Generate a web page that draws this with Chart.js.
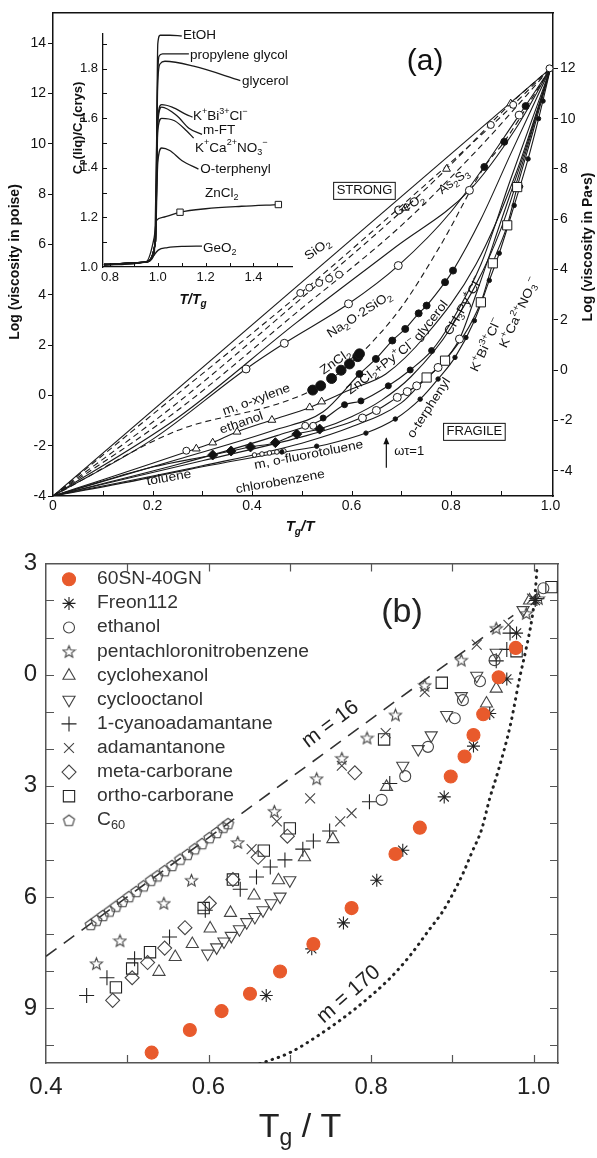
<!DOCTYPE html>
<html>
<head>
<meta charset="utf-8">
<title>Strong and fragile liquids</title>
<script src="https://cdn.jsdelivr.net/npm/chart.js@4.4.1/dist/chart.umd.min.js"></script>
<style>
  html, body { margin: 0; padding: 0; background: #fff; }
  #page { position: relative; width: 597px; height: 1158px; overflow: hidden; background: #fff; }
  canvas { position: absolute; left: 0; }
  #chartA { top: 0; width: 597px; height: 540px; }
  #chartInset { top: 0; width: 320px; height: 320px; }
  #chartB { top: 540px; width: 597px; height: 618px; }
</style>
</head>
<body>
<div id="page">
  <canvas id="chartA" width="597" height="540"></canvas>
  <canvas id="chartInset" width="320" height="320"></canvas>
  <canvas id="chartB" width="597" height="618"></canvas>
</div>
<script>
// ---- panel (a): log viscosity (poise) vs Tg/T
var aXTicks = [0, 0.2, 0.4, 0.6, 0.8, 1.0];
var aYTicks = [-4, -2, 0, 2, 4, 6, 8, 10, 12, 14];
var aYRTicks = [-4, -2, 0, 2, 4, 6, 8, 10, 12];
var aMinorX = [0.1, 0.2, 0.3, 0.4, 0.5, 0.6, 0.7, 0.8, 0.9];

var aSiO2Line = [[0, -4], [1, 13]];
var aDash1Line = [[0, -4], [0.25, 0.05], [0.5, 4.1], [0.75, 8.4], [0.88, 10.7], [1, 13]];
var aDash1Pts = [[0.497, 4.07], [0.515, 4.28], [0.535, 4.47], [0.555, 4.64], [0.575, 4.8], [0.88, 10.75], [0.925, 11.55], [0.998, 13.0]];
var aGeO2Line = [[0, -4], [0.25, -0.3], [0.49, 3.7], [0.708, 7.45], [0.791, 9.0], [0.92, 11.6], [1, 13]];
var aGeO2Pts = [[0.708, 7.45], [0.791, 9.0], [0.92, 11.6]];
var aDash3Line = [[0, -4], [0.25, -0.6], [0.49, 3.3], [0.7, 6.75], [0.85, 9.7], [1, 13]];
var aAs2S3Line = [[0, -4], [0.25, -0.9], [0.49, 2.9], [0.688, 5.89], [0.837, 8.15], [0.93, 10.6], [1, 13]];
var aAs2S3Pts = [[0.837, 8.15]];
var aNaSiLine = [[0, -4], [0.2, -1.75], [0.388, 1.05], [0.465, 2.07], [0.594, 3.64], [0.694, 5.16], [0.8, 7.3], [0.937, 11.14], [1, 13]];
var aNaSiPts = [[0.388, 1.05], [0.465, 2.07], [0.594, 3.64], [0.694, 5.16], [0.937, 11.14]];
var aZnCl2Line = [[0, -4], [0.25, -1.4], [0.45, -0.35], [0.522, 0.21], [0.56, 0.67], [0.616, 1.6], [0.7, 3.5], [0.78, 6.0], [0.867, 9.08], [0.907, 10.08], [1, 13]];
var aZnCl2Pts = [[0.522, 0.21], [0.538, 0.38], [0.56, 0.67], [0.579, 1.0], [0.596, 1.25], [0.6125, 1.54], [0.616, 1.65]];
var aZnCl2HiPts = [[0.867, 9.08], [0.907, 10.08], [0.95, 11.5]];
var aGlyLine = [[0, -4], [0.25, -2.55], [0.45, -1.35], [0.543, -0.65], [0.616, 0.85], [0.649, 1.45], [0.682, 2.18], [0.708, 2.64], [0.735, 3.26], [0.751, 3.57], [0.788, 4.5], [0.804, 4.96], [0.86, 7.0], [0.92, 9.6], [1, 13]];
var aGlyPts = [[0.616, 0.85], [0.649, 1.45], [0.682, 2.18], [0.708, 2.64], [0.735, 3.26], [0.751, 3.57], [0.788, 4.5], [0.804, 4.96]];
var aZnPyLine = [[0, -4], [0.25, -2.75], [0.45, -1.6], [0.543, -0.95], [0.586, -0.37], [0.619, -0.22], [0.674, 0.38], [0.718, 1.01], [0.761, 1.78], [0.8, 2.9], [0.86, 5.2], [0.92, 8.6], [1, 13]];
var aZnPyPts = [[0.543, -0.9], [0.586, -0.37], [0.619, -0.22], [0.674, 0.38], [0.718, 1.01], [0.761, 1.78]];
var aKBiLine = [[0, -4], [0.3, -2.6], [0.5, -1.65], [0.6, -1.05], [0.65, -0.6], [0.692, -0.08], [0.731, 0.38], [0.774, 1.11], [0.817, 2.24], [0.85, 4.0], [0.9, 6.9], [0.95, 9.8], [1, 13]];
var aKBiPts = [[0.622, -0.9], [0.65, -0.6], [0.692, -0.08], [0.712, 0.15], [0.731, 0.38], [0.774, 1.11], [0.817, 2.24]];
var aKCaLine = [[0, -4], [0.3, -2.8], [0.5, -1.9], [0.6, -1.25], [0.7, -0.3], [0.751, 0.71], [0.788, 1.38], [0.86, 3.7], [0.884, 5.25], [0.913, 6.76], [0.933, 8.28], [0.965, 10.5], [1, 13]];
var aKCaPts = [[0.751, 0.71], [0.788, 1.38], [0.86, 3.7], [0.884, 5.25], [0.913, 6.76], [0.933, 8.28]];
var aOtpLine = [[0, -4], [0.15, -3.45], [0.272, -2.95], [0.45, -2.3], [0.55, -1.95], [0.629, -1.5], [0.688, -0.94], [0.738, -0.15], [0.774, 0.65], [0.808, 1.51], [0.847, 2.97], [0.877, 4.57], [0.897, 5.65], [0.927, 7.55], [0.955, 9.4], [0.976, 11.0], [1, 13]];
var aOtpPts = [[0.46, -2.25], [0.53, -2.02], [0.629, -1.5], [0.688, -0.94], [0.738, -0.15], [0.774, 0.65], [0.808, 1.51], [0.83, 2.3], [0.847, 2.97], [0.877, 4.57], [0.897, 5.65], [0.927, 7.55], [0.94, 8.3], [0.955, 9.4], [0.976, 11.0], [0.985, 11.7]];
var aTolLine = [[0, -4], [0.1, -3.4], [0.2, -2.85], [0.321, -2.37], [0.358, -2.21], [0.397, -2.05], [0.447, -1.88], [0.49, -1.54], [0.536, -1.34], [0.6, -0.85], [0.66, -0.2], [0.72, 0.75], [0.8, 2.7], [0.9, 6.6], [1, 13]];
var aTolPts = [[0.321, -2.37], [0.358, -2.21], [0.397, -2.05], [0.447, -1.88], [0.49, -1.54], [0.536, -1.34]];
var aEthLine = [[0, -4], [0.1, -3.35], [0.2, -2.7], [0.278, -2.18], [0.321, -1.88], [0.37, -1.45], [0.44, -0.98], [0.516, -0.48], [0.6, 0.25], [0.669, 0.85], [0.75, 2.4], [0.85, 5.2], [0.93, 8.8], [1, 13]];
var aEthPts = [[0.288, -2.12], [0.321, -1.88], [0.37, -1.45], [0.44, -0.98], [0.516, -0.48], [0.54, -0.25]];
var aXylPts = [[0.268, -2.2], [0.507, -1.21], [0.523, -1.21]];
var aFluPts = [[0.405, -2.37], [0.42, -2.33], [0.435, -2.29], [0.45, -2.25], [0.464, -2.21]];

// ---- inset: Cp(liq)/Cp(crys) vs T/Tg
var iXTicks = [0.8, 1.0, 1.2, 1.4];
var iYTicks = [1.0, 1.2, 1.4, 1.6, 1.8];
var iMinorY = [1.1, 1.2, 1.3, 1.4, 1.5, 1.6, 1.7, 1.8, 1.9];
var iMinorX = [0.8, 0.9, 1.0, 1.1, 1.2, 1.3, 1.4, 1.5];
var iEtOH = [[0.775, 1.01], [0.95, 1.02], [0.985, 1.05], [0.995, 1.5], [1.0, 1.9], [1.01, 1.935], [1.05, 1.935], [1.1, 1.932]];
var iPG = [[0.775, 1.01], [0.95, 1.02], [0.99, 1.1], [0.998, 1.7], [1.005, 1.85], [1.02, 1.86], [1.13, 1.86]];
var iGly = [[0.775, 1.01], [0.95, 1.02], [0.99, 1.1], [1.0, 1.75], [1.01, 1.82], [1.03, 1.83], [1.15, 1.81], [1.345, 1.752]];
var iKBi = [[0.775, 1.01], [0.95, 1.02], [0.99, 1.1], [1.0, 1.6], [1.016, 1.655], [1.06, 1.645], [1.12, 1.615], [1.145, 1.605]];
var iMFT = [[0.775, 1.01], [0.95, 1.02], [0.99, 1.1], [1.0, 1.58], [1.016, 1.645], [1.08, 1.61], [1.13, 1.56], [1.185, 1.535]];
var iKCa = [[0.775, 1.01], [0.95, 1.02], [0.99, 1.1], [1.0, 1.55], [1.016, 1.6], [1.07, 1.59], [1.12, 1.55], [1.15, 1.52]];
var iOtp = [[0.775, 1.01], [0.95, 1.02], [0.99, 1.1], [1.0, 1.42], [1.016, 1.48], [1.05, 1.47], [1.1, 1.43], [1.17, 1.395]];
var iZnCl2 = [[0.775, 1.01], [0.95, 1.02], [0.985, 1.12], [0.995, 1.188], [1.02, 1.2], [1.093, 1.221], [1.2, 1.235], [1.35, 1.245], [1.504, 1.252]];
var iZnCl2Pts = [[1.093, 1.221], [1.504, 1.252]];
var iGeO2 = [[0.775, 1.008], [0.912, 1.015], [0.926, 1.018], [0.967, 1.028], [1.002, 1.068], [1.04, 1.078], [1.1, 1.083], [1.185, 1.084]];

// ---- panel (b): log tau vs Tg/T
var bXTicks = [0.4, 0.6, 0.8, 1.0];
var bYTicks = [3, 0, -3, -6, -9];
var bMinorX = [0.5, 0.6, 0.7, 0.8, 0.9, 1.0];
var bMinorY = [-10, -9, -8, -7, -6, -5, -4, -3, -2, -1, 0, 1, 2];

var bSN60 = [[0.530, -10.2], [0.577, -9.59], [0.616, -9.08], [0.651, -8.61], [0.688, -8.01], [0.729, -7.27], [0.776, -6.30], [0.830, -4.84], [0.860, -4.13], [0.898, -2.75], [0.915, -2.21], [0.926, -1.63], [0.938, -1.07], [0.957, -0.07], [0.978, 0.72]];
var bFreon = [[0.671, -8.66], [0.727, -7.40], [0.766, -6.70], [0.807, -5.55], [0.839, -4.74], [0.890, -3.30], [0.926, -1.93], [0.946, -1.05], [0.967, -0.12], [0.979, 1.12], [1.002, 2.0]];
var bEthanol = [[0.813, -3.38], [0.842, -2.74], [0.870, -1.95], [0.903, -1.18], [0.913, -0.69], [0.934, -0.18], [0.952, 0.39], [1.012, 2.33]];
var bPCNB = [[0.462, -7.80], [0.491, -7.18], [0.545, -6.17], [0.579, -5.55], [0.636, -4.53], [0.681, -3.69], [0.733, -2.81], [0.764, -2.26], [0.795, -1.71], [0.830, -1.09], [0.866, -0.29], [0.911, 0.39], [0.954, 1.25], [0.991, 1.65], [1.006, 2.05]];
var bCyclohex = [[0.539, -8.02], [0.559, -7.62], [0.580, -7.27], [0.602, -6.85], [0.627, -6.43], [0.656, -5.96], [0.686, -5.55], [0.718, -4.93], [0.753, -4.44], [0.819, -3.03], [0.942, -0.78], [0.954, -0.38], [0.995, 2.0]];
var bCyclooct = [[0.599, -7.53], [0.610, -7.36], [0.619, -7.20], [0.628, -7.05], [0.638, -6.87], [0.647, -6.68], [0.657, -6.54], [0.667, -6.36], [0.677, -6.17], [0.688, -5.99], [0.700, -5.55], [0.839, -2.46], [0.858, -2.01], [0.874, -1.64], [0.893, -1.09], [0.911, -0.58], [0.930, -0.03], [0.954, 0.59], [0.987, 1.74]];
var bCyano = [[0.450, -8.66], [0.475, -8.18], [0.509, -7.67], [0.552, -7.08], [0.596, -6.36], [0.639, -5.79], [0.659, -5.46], [0.676, -5.19], [0.694, -5.0], [0.716, -4.71], [0.729, -4.49], [0.749, -4.22], [0.798, -3.43], [0.823, -2.94], [0.954, 0.37], [0.967, 0.68], [0.971, 1.12], [1.004, 2.05]];
var bAdaman = [[0.653, -4.71], [0.684, -3.96], [0.725, -3.34], [0.762, -3.96], [0.776, -3.74], [0.764, -2.46], [0.818, -1.58], [0.866, -0.47], [0.930, 0.81], [0.969, 1.34], [0.998, 2.05]];
var bMeta = [[0.482, -8.79], [0.506, -8.18], [0.525, -7.77], [0.546, -7.38], [0.571, -6.83], [0.601, -6.17], [0.630, -5.53], [0.661, -4.93], [0.697, -4.36], [0.780, -2.65]];
var bOrtho = [[0.486, -8.44], [0.506, -7.93], [0.528, -7.49], [0.594, -6.30], [0.630, -5.53], [0.668, -4.75], [0.700, -4.15], [0.816, -1.75], [0.887, -0.22], [0.979, 0.63], [1.022, 2.36]];
var bC60 = [[0.455, -6.74], [0.462, -6.63], [0.470, -6.50], [0.478, -6.38], [0.486, -6.25], [0.494, -6.12], [0.502, -5.99], [0.511, -5.85], [0.520, -5.70], [0.529, -5.55], [0.537, -5.43], [0.546, -5.29], [0.555, -5.15], [0.565, -4.98], [0.574, -4.85], [0.583, -4.70], [0.592, -4.56], [0.601, -4.40], [0.610, -4.26], [0.618, -4.12], [0.624, -4.02]];
var bM16 = [[0.4, -7.6], [0.975, 1.6]];
var bM170 = [[0.663, -10.5], [0.700, -10.2], [0.741, -9.65], [0.782, -8.99], [0.823, -8.2], [0.848, -7.58], [0.872, -6.87], [0.887, -6.43], [0.901, -5.9], [0.913, -5.37], [0.924, -4.8], [0.936, -4.18], [0.946, -3.34], [0.956, -2.63], [0.971, -1.40], [0.983, -0.07], [0.991, 0.72], [0.998, 1.52], [1.002, 2.22], [1.004, 2.84]];

var FONT = '"Liberation Sans", Arial, sans-serif';
Chart.defaults.font.family = FONT;
Chart.defaults.color = '#111';

function pts(arr) {
    return arr.map(function (p) { return { x: p[0], y: p[1] }; });
}

function lineSet(arr, dash, width, color) {
    return {
        data: pts(arr), showLine: true, pointRadius: 0, fill: false,
        borderColor: color || '#1a1a1a', borderWidth: width || 1.1,
        borderDash: dash || [], cubicInterpolationMode: 'monotone', order: 2
    };
}

function markSet(arr, style, r, fill, extra) {
    var ds = {
        data: pts(arr), showLine: false, pointStyle: style, pointRadius: r,
        pointBackgroundColor: fill, pointBorderColor: '#1a1a1a', pointBorderWidth: 1,
        order: 1, clip: false
    };
    return Object.assign(ds, extra || {});
}

// rich text: _{sub} and ^{sup}
function parseRich(s) {
    var out = [], buf = '', i = 0;
    while (i < s.length) {
        var c = s[i];
        if ((c === '_' || c === '^') && s[i + 1] === '{') {
            if (buf) { out.push([buf, 0]); buf = ''; }
            var j = s.indexOf('}', i);
            out.push([s.slice(i + 2, j), c === '_' ? 1 : 2]);
            i = j + 1;
        } else {
            buf += c;
            i++;
        }
    }
    if (buf) out.push([buf, 0]);
    return out;
}

function fontStr(it, size) {
    return (it.style || 'normal') + ' ' + (it.weight || 'normal') + ' ' + size + 'px ' + FONT;
}

function drawRich(ctx, it, x, y) {
    var size = it.size || 13;
    var small = Math.round(size * 0.68);
    var w = 0;
    var segs = parseRich(it.t).map(function (p) {
        var fs = p[1] ? small : size;
        ctx.font = fontStr(it, fs);
        var seg = { t: p[0], m: p[1], fs: fs, x: w };
        w += ctx.measureText(p[0]).width;
        return seg;
    });
    ctx.save();
    ctx.translate(x, y);
    ctx.rotate((it.rot || 0) * Math.PI / 180);
    ctx.scale(it.sx || 1, 1);
    ctx.fillStyle = it.color || '#111';
    ctx.textBaseline = 'middle';
    ctx.textAlign = 'left';
    var x0 = it.align === 'left' ? 0 : -w / 2;
    segs.forEach(function (s) {
        ctx.font = fontStr(it, s.fs);
        var dy = s.m === 1 ? size * 0.32 : (s.m === 2 ? -size * 0.38 : 0);
        ctx.fillText(s.t, x0 + s.x, dy);
    });
    if (it.box) {
        ctx.strokeStyle = it.color || '#111';
        ctx.lineWidth = 1;
        ctx.strokeRect(x0 - 3, -size / 2 - 2, w + 6, size + 4);
    }
    ctx.restore();
}

function annotations(id, items, arrows, xId, yId) {
    return {
        id: id,
        afterDatasetsDraw: function (chart) {
            var ctx = chart.ctx, xs = chart.scales[xId], ys = chart.scales[yId];
            (arrows || []).forEach(function (a) {
                var x1 = xs.getPixelForValue(a[0]), y1 = ys.getPixelForValue(a[1]);
                var x2 = xs.getPixelForValue(a[2]), y2 = ys.getPixelForValue(a[3]);
                ctx.save();
                ctx.strokeStyle = '#111';
                ctx.fillStyle = '#111';
                ctx.lineWidth = 1.2;
                ctx.beginPath();
                ctx.moveTo(x1, y1);
                ctx.lineTo(x2, y2);
                ctx.stroke();
                ctx.beginPath();
                ctx.moveTo(x2, y2 - 1);
                ctx.lineTo(x2 - 3, y2 + 6);
                ctx.lineTo(x2 + 3, y2 + 6);
                ctx.closePath();
                ctx.fill();
                ctx.restore();
            });
            items.forEach(function (it) {
                var x = it.px !== undefined ? it.px : xs.getPixelForValue(it.x);
                var y = it.py !== undefined ? it.py : ys.getPixelForValue(it.y);
                drawRich(ctx, it, x, y);
            });
        }
    };
}

function tickMarks(id, list, color, width) {
    return {
        id: id,
        afterDatasetsDraw: function (chart) {
            var ctx = chart.ctx, a = chart.chartArea;
            ctx.save();
            ctx.strokeStyle = color;
            ctx.lineWidth = width;
            ctx.beginPath();
            list.forEach(function (t) {
                var s = chart.scales[t.scale];
                t.values.forEach(function (v) {
                    var p = Math.round(s.getPixelForValue(v)) + 0.5;
                    if (t.side === 'bottom') { ctx.moveTo(p, a.bottom); ctx.lineTo(p, a.bottom - t.len); }
                    else if (t.side === 'top') { ctx.moveTo(p, a.top); ctx.lineTo(p, a.top + t.len); }
                    else if (t.side === 'left') { ctx.moveTo(a.left, p); ctx.lineTo(a.left + t.len, p); }
                    else { ctx.moveTo(a.right, p); ctx.lineTo(a.right - t.len, p); }
                });
            });
            ctx.stroke();
            ctx.restore();
        }
    };
}

function fixedTicks(values) {
    return function (scale) {
        scale.ticks = values.map(function (v) { return { value: v }; });
    };
}

function makeMarker(kind, size) {
    var c = document.createElement('canvas');
    c.width = size;
    c.height = size;
    var g = c.getContext('2d');
    var cx = size / 2, cy = size / 2 + 0.5;
    g.strokeStyle = '#444';
    g.lineWidth = 1.1;
    g.beginPath();
    var n = kind === 'star5' ? 10 : 5;
    for (var i = 0; i < n; i++) {
        var r = kind === 'star5' ? (i % 2 ? 2.7 : 6.3) : 5.8;
        var ang = -Math.PI / 2 + i * 2 * Math.PI / n;
        var px = cx + r * Math.cos(ang), py = cy + r * Math.sin(ang);
        if (i === 0) g.moveTo(px, py); else g.lineTo(px, py);
    }
    g.closePath();
    g.stroke();
    return c;
}

var noEvents = [];

// ================= panel (a) =================
var aLabels = [
    { t: '(a)', x: 0.748, y: 13.25, size: 30 },
    { t: 'STRONG', x: 0.626, y: 8.13, size: 13, box: true },
    { t: 'FRAGILE', x: 0.847, y: -1.45, size: 13, box: true },
    { t: 'SiO_{2}', x: 0.532, y: 5.8, size: 12.5, rot: -35, sx: 1.1 },
    { t: 'GeO_{2}', x: 0.716, y: 7.55, size: 12.5, rot: -28, sx: 1.05 },
    { t: 'As_{2}S_{3}', x: 0.806, y: 8.5, size: 12.5, rot: -36, sx: 1.05 },
    { t: 'Na_{2}O·2SiO_{2}', x: 0.616, y: 3.2, size: 12.5, rot: -33, sx: 1.1 },
    { t: 'ZnCl_{2}', x: 0.568, y: 1.33, size: 12.5, rot: -35, sx: 1.1 },
    { t: 'ZnCl_{2}+Py^{+}Cl^{−}', x: 0.66, y: 1.13, size: 12.5, rot: -37, sx: 1.1 },
    { t: 'glycerol', x: 0.76, y: 2.96, size: 12.5, rot: -52, sx: 1.1 },
    { t: 'CH_{3}Py^{+}Cl^{−}', x: 0.826, y: 3.55, size: 12.5, rot: -60, sx: 1.1 },
    { t: 'K^{+}Bi^{3+}Cl^{−}', x: 0.871, y: 2.0, size: 12.5, rot: -65, sx: 1.1 },
    { t: 'K^{+}Ca^{2+}NO_{3}^{−}', x: 0.937, y: 3.28, size: 12.5, rot: -65, sx: 1.1 },
    { t: 'o-terphenyl', x: 0.756, y: -0.5, size: 12.5, rot: -57, sx: 1.1 },
    { t: 'ωτ=1', x: 0.716, y: -2.21, size: 13 },
    { t: 'm, o-xylene', x: 0.409, y: -0.18, size: 12.5, rot: -20, sx: 1.1 },
    { t: 'ethanol', x: 0.379, y: -1.1, size: 12.5, rot: -19, sx: 1.1 },
    { t: 'toluene', x: 0.233, y: -3.28, size: 12.5, rot: -10, sx: 1.1 },
    { t: 'chlorobenzene', x: 0.457, y: -3.44, size: 12.5, rot: -10, sx: 1.1 },
    { t: 'm, o-fluorotoluene', x: 0.514, y: -2.37, size: 12.5, rot: -11, sx: 1.1 },
    { t: 'Log (viscosity in poise)', px: 15, py: 262, size: 14, rot: -90, weight: 'bold' },
    { t: 'Log (viscosity in Pa•s)', px: 588, py: 247, size: 14, rot: -90, weight: 'bold' },
    { t: 'T_{g}/T', px: 300, py: 527, size: 15, weight: 'bold', style: 'italic' }
];
var aArrows = [[0.67, -2.88, 0.67, -1.7]];

var aAxisBorder = { display: true, color: '#111', width: 1.5 };

var chartA = new Chart(document.getElementById('chartA'), {
    type: 'scatter',
    data: {
        datasets: [
            markSet(aDash1Pts, 'circle', 3.5, '#fff'),
            markSet(aGeO2Pts, 'triangle', 4.5, '#fff'),
            markSet(aAs2S3Pts, 'circle', 4, '#fff'),
            markSet(aNaSiPts, 'circle', 4, '#fff'),
            markSet(aZnCl2Pts, 'circle', 5, '#111'),
            markSet(aZnCl2HiPts, 'circle', 3.5, '#111'),
            markSet(aGlyPts, 'circle', 3.5, '#111'),
            markSet(aZnPyPts, 'circle', 3, '#111'),
            markSet(aKBiPts, 'circle', 4, '#fff'),
            markSet(aKCaPts, 'rect', 6.5, '#fff'),
            markSet(aOtpPts, 'circle', 2.2, '#111'),
            markSet(aTolPts, 'rectRot', 5, '#111'),
            markSet(aEthPts, 'triangle', 4.5, '#fff'),
            markSet(aXylPts, 'circle', 3.5, '#fff'),
            markSet(aFluPts, 'circle', 2.3, '#fff'),
            lineSet(aSiO2Line),
            lineSet(aDash1Line, [6, 4]),
            lineSet(aGeO2Line, [6, 4]),
            lineSet(aDash3Line, [6, 4]),
            lineSet(aAs2S3Line),
            lineSet(aNaSiLine),
            lineSet(aZnCl2Line, [6, 4]),
            lineSet(aGlyLine),
            lineSet(aZnPyLine),
            lineSet(aKBiLine),
            lineSet(aKCaLine),
            lineSet(aOtpLine),
            lineSet(aTolLine),
            lineSet(aEthLine)
        ]
    },
    options: {
        responsive: false, animation: false, devicePixelRatio: 1, events: noEvents,
        layout: { padding: 0 },
        plugins: { legend: { display: false }, tooltip: { enabled: false } },
        scales: {
            x: {
                type: 'linear', position: 'bottom', min: 0, max: 1.005,
                afterBuildTicks: fixedTicks(aXTicks),
                afterFit: function (s) { s.height = 44; },
                ticks: {
                    padding: 2, font: { size: 14 }, color: '#111', maxRotation: 0, autoSkip: false,
                    callback: function (v) { return v === 0 ? '0' : v.toFixed(1); }
                },
                grid: { display: false, drawTicks: false },
                border: aAxisBorder
            },
            xT: {
                type: 'linear', position: 'top', min: 0, max: 1.005,
                afterFit: function (s) { s.height = 13; },
                ticks: { display: false },
                grid: { display: false, drawTicks: false },
                border: aAxisBorder
            },
            y: {
                type: 'linear', position: 'left', min: -4, max: 15.2,
                afterBuildTicks: fixedTicks(aYTicks),
                afterFit: function (s) { s.width = 53; },
                ticks: { padding: 2, font: { size: 14 }, color: '#111' },
                grid: { display: true, drawOnChartArea: false, drawTicks: true, tickLength: 5, color: '#111' },
                border: aAxisBorder
            },
            yR: {
                type: 'linear', position: 'right', min: -5, max: 14.2,
                afterBuildTicks: fixedTicks(aYRTicks),
                afterFit: function (s) { s.width = 44; },
                ticks: { padding: 2, font: { size: 14 }, color: '#111' },
                grid: { display: true, drawOnChartArea: false, drawTicks: true, tickLength: 5, color: '#111' },
                border: aAxisBorder
            }
        }
    },
    plugins: [
        tickMarks('aTicks', [{ scale: 'x', side: 'bottom', values: aMinorX, len: 5 }], '#111', 1),
        annotations('aText', aLabels, aArrows, 'x', 'y')
    ]
});

// ================= inset =================
var iLabels = [
    { t: 'EtOH', x: 1.105, y: 1.936, size: 13.5, align: 'left' },
    { t: 'propylene glycol', x: 1.135, y: 1.856, size: 13.5, align: 'left' },
    { t: 'glycerol', x: 1.352, y: 1.748, size: 13.5, align: 'left' },
    { t: 'K^{+}Bi^{3+}Cl^{−}', x: 1.147, y: 1.608, size: 13.5, align: 'left' },
    { t: 'm-FT', x: 1.189, y: 1.552, size: 13.5, align: 'left' },
    { t: 'K^{+}Ca^{2+}NO_{3}^{−}', x: 1.156, y: 1.48, size: 13.5, align: 'left' },
    { t: 'O-terphenyl', x: 1.177, y: 1.396, size: 13.5, align: 'left' },
    { t: 'ZnCl_{2}', x: 1.197, y: 1.296, size: 13.5, align: 'left' },
    { t: 'GeO_{2}', x: 1.189, y: 1.076, size: 13.5, align: 'left' },
    { t: 'C_{p}(liq)/C_{p}(crys)', px: 78, py: 128, size: 13, rot: -90, weight: 'bold' },
    { t: 'T/T_{g}', px: 193, py: 300, size: 14, weight: 'bold', style: 'italic' }
];

var chartInset = new Chart(document.getElementById('chartInset'), {
    type: 'scatter',
    data: {
        datasets: [
            markSet(iZnCl2Pts, 'rect', 4.5, '#fff'),
            lineSet(iEtOH, [], 1.3),
            lineSet(iPG, [], 1.3),
            lineSet(iGly, [], 1.3),
            lineSet(iKBi, [], 1.3),
            lineSet(iMFT, [], 1.3),
            lineSet(iKCa, [], 1.3),
            lineSet(iOtp, [], 1.3),
            lineSet(iZnCl2, [], 1.3),
            lineSet(iGeO2, [], 1.3)
        ]
    },
    options: {
        responsive: false, animation: false, devicePixelRatio: 1, events: noEvents,
        layout: { padding: { top: 34, right: 28, left: 0, bottom: 0 } },
        plugins: { legend: { display: false }, tooltip: { enabled: false } },
        scales: {
            x: {
                type: 'linear', position: 'bottom', min: 0.771, max: 1.561,
                afterBuildTicks: fixedTicks(iXTicks),
                afterFit: function (s) { s.height = 53; },
                ticks: {
                    padding: 3, font: { size: 13 }, color: '#111', maxRotation: 0, autoSkip: false,
                    callback: function (v) { return v.toFixed(1); }
                },
                grid: { display: false, drawTicks: false },
                border: { display: true, color: '#111', width: 1.3 }
            },
            y: {
                type: 'linear', position: 'left', min: 1.0, max: 1.94,
                afterBuildTicks: fixedTicks(iYTicks),
                afterFit: function (s) { s.width = 103; },
                ticks: {
                    padding: 5, font: { size: 13 }, color: '#111',
                    callback: function (v) { return v.toFixed(1); }
                },
                grid: { display: false, drawTicks: false },
                border: { display: true, color: '#111', width: 1.3 }
            }
        }
    },
    plugins: [
        tickMarks('iTicks', [
            { scale: 'y', side: 'left', values: iMinorY, len: 4 },
            { scale: 'x', side: 'bottom', values: iMinorX, len: 4 }
        ], '#111', 1),
        annotations('iText', iLabels, [], 'x', 'y')
    ]
});

// ================= panel (b) =================
var star5 = makeMarker('star5', 15);
var pentagon = makeMarker('pent', 15);
var ORANGE = '#E85A2C';
var GREY = '#444';
var open = 'rgba(0,0,0,0)';

function bMarks(label, arr, style, r, fill, extra) {
    return markSet(arr, style, r, fill, Object.assign({
        label: label, pointBorderColor: GREY, pointBorderWidth: 1.1, inLegend: true
    }, extra || {}));
}

var bDatasets = [
    bMarks('60SN-40GN', bSN60, 'circle', 6.5, ORANGE, { pointBorderColor: ORANGE, order: 0 }),
    bMarks('Freon112', bFreon, 'star', 6.5, open, { pointBorderColor: '#222' }),
    bMarks('ethanol', bEthanol, 'circle', 5.5, open),
    bMarks('pentachloronitrobenzene', bPCNB, star5, 7, open),
    bMarks('cyclohexanol', bCyclohex, 'triangle', 7, open),
    bMarks('cyclooctanol', bCyclooct, 'triangle', 7, open, { pointRotation: 180, rotation: 180 }),
    bMarks('1-cyanoadamantane', bCyano, 'cross', 7.5, open, { pointBorderColor: '#222' }),
    bMarks('adamantanone', bAdaman, 'crossRot', 7, open),
    bMarks('meta-carborane', bMeta, 'rectRot', 7, open),
    bMarks('ortho-carborane', bOrtho, 'rect', 8, open, { pointBorderColor: '#222' }),
    bMarks('C_{60}', bC60, pentagon, 6, open),
    Object.assign(lineSet(bM16, [13, 9], 1.6, '#333'), { cubicInterpolationMode: 'default' }),
    Object.assign(lineSet(bM170, [0.5, 6], 3, '#222'), { borderCapStyle: 'round' })
];

var bLegend = {
    id: 'bLegend',
    afterDraw: function (chart) {
        var ctx = chart.ctx;
        var row = 0;
        chart.data.datasets.forEach(function (ds) {
            if (!ds.inLegend) return;
            var y = 39.3 + row * 24.1;
            row++;
            if (Chart.helpers && Chart.helpers.drawPoint) {
                ctx.save();
                ctx.fillStyle = ds.pointBackgroundColor;
                ctx.strokeStyle = ds.pointBorderColor;
                ctx.lineWidth = ds.pointBorderWidth;
                Chart.helpers.drawPoint(ctx, {
                    pointStyle: ds.pointStyle, rotation: ds.pointRotation || 0,
                    radius: ds.pointRadius, borderWidth: ds.pointBorderWidth
                }, 69, y);
                ctx.restore();
            }
            drawRich(ctx, { t: ds.label, size: 18, sx: 1.07, align: 'left', color: '#333' }, 97, y);
        });
    }
};

var bLabels = [
    { t: '(b)', x: 0.838, y: 1.68, size: 34, color: '#222' },
    { t: 'm = 16', x: 0.75, y: -1.34, size: 21, rot: -37, color: '#222' },
    { t: 'm = 170', x: 0.7725, y: -8.63, size: 21, rot: -41, color: '#222' },
    { t: 'T_{g} / T', px: 300, py: 588, size: 34, color: '#222' }
];

var bBorder = { display: true, color: '#555', width: 1.5 };

var chartB = new Chart(document.getElementById('chartB'), {
    type: 'scatter',
    data: { datasets: bDatasets },
    options: {
        responsive: false, animation: false, devicePixelRatio: 1, events: noEvents,
        layout: { padding: 0 },
        plugins: { legend: { display: false }, tooltip: { enabled: false } },
        scales: {
            x: {
                type: 'linear', position: 'bottom', min: 0.4, max: 1.03,
                afterBuildTicks: fixedTicks(bXTicks),
                afterFit: function (s) { s.height = 95; },
                ticks: {
                    padding: 10, font: { size: 24 }, color: '#222', maxRotation: 0, autoSkip: false,
                    callback: function (v) { return v.toFixed(1); }
                },
                grid: { display: false, drawTicks: false },
                border: bBorder
            },
            xT: {
                type: 'linear', position: 'top', min: 0.4, max: 1.03,
                afterFit: function (s) { s.height = 14; },
                ticks: { display: false },
                grid: { display: false, drawTicks: false },
                border: bBorder
            },
            y: {
                type: 'linear', position: 'left', min: -10.48, max: 3,
                afterBuildTicks: fixedTicks(bYTicks),
                afterFit: function (s) { s.width = 46; },
                ticks: {
                    padding: 9, font: { size: 24 }, color: '#222',
                    callback: function (v) { return String(Math.abs(v)); }
                },
                grid: { display: false, drawTicks: false },
                border: bBorder
            },
            yR: {
                type: 'linear', position: 'right', min: -10.48, max: 3,
                afterFit: function (s) { s.width = 39; },
                ticks: { display: false },
                grid: { display: false, drawTicks: false },
                border: bBorder
            }
        }
    },
    plugins: [
        tickMarks('bTicks', [
            { scale: 'x', side: 'bottom', values: bMinorX, len: 8 },
            { scale: 'x', side: 'top', values: bMinorX, len: 8 },
            { scale: 'y', side: 'left', values: bMinorY, len: 8 },
            { scale: 'y', side: 'right', values: bMinorY, len: 8 }
        ], '#555', 1.2),
        annotations('bText', bLabels, [], 'x', 'y'),
        bLegend
    ]
});
</script>
</body>
</html>
